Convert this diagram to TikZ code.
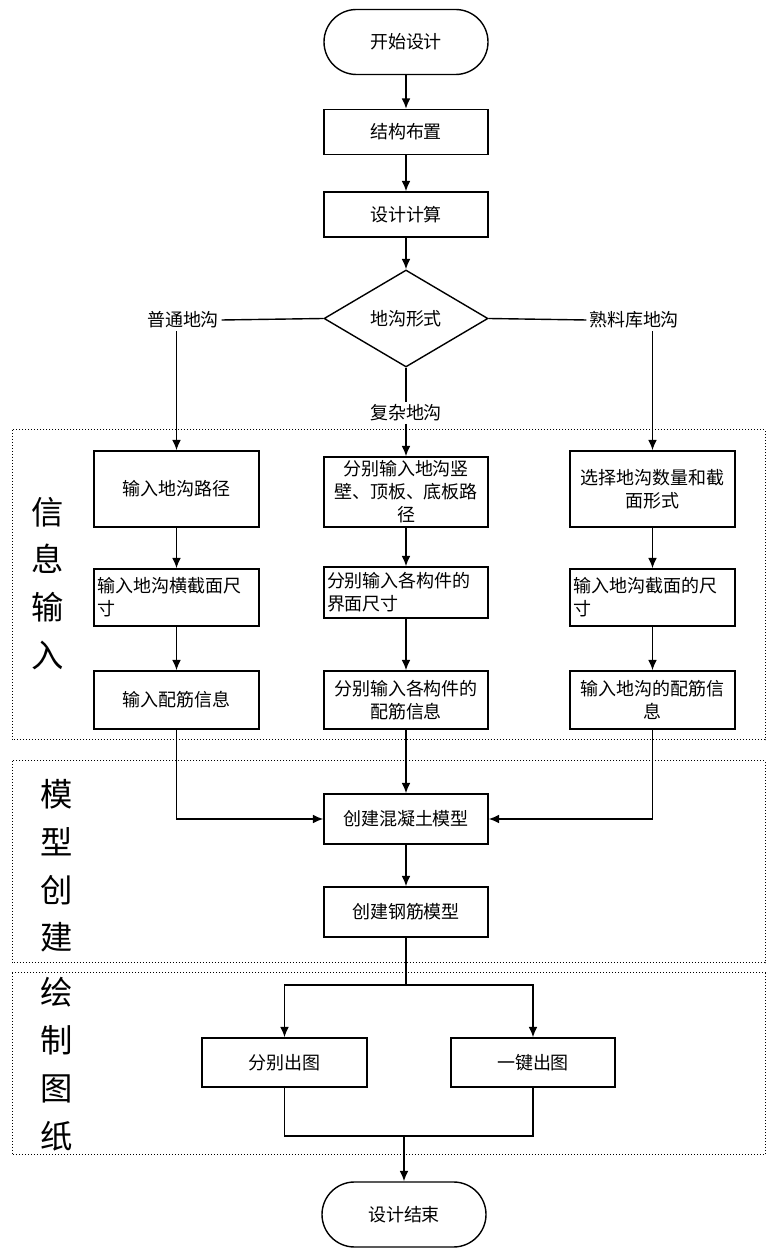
\documentclass[tikz,border=0pt]{standalone}
\usepackage{fontspec}
\setmainfont{Liberation Sans}
\newfontfamily\cjk{Noto Sans CJK SC}
\usetikzlibrary{shapes.geometric,arrows.meta}

\begin{document}
\begin{tikzpicture}[
        line width=0.035000cm,
        every node/.style={font=\cjk\fontsize{12.8}{16.3}\selectfont, inner sep=0.050000cm},
        stepbox/.style={draw, rectangle, minimum width=4.100000cm, align=center},
        termbox/.style={draw, rectangle, rounded corners=0.812500cm, minimum width=4.100000cm, minimum height=1.625000cm},
        decbox/.style={draw, diamond, minimum width=4.100000cm, minimum height=2.425000cm, inner sep=0cm},
        zone/.style={draw, line width=0.025000cm, dash pattern=on 0.035000cm off 0.040000cm},
        zonetitle/.style={font=\cjk\fontsize{23}{34}\selectfont, align=center},
        flow/.style={-{Latex[length=0.260000cm,width=0.220000cm]}}
    ]
        \useasboundingbox (0.000000,0.000000) rectangle (19.375000,31.450000);%
        
        % Drawing dotted zones
        \draw [zone] (0.300000,20.700000) rectangle (19.125000,12.950000);%
        \draw [zone] (0.300000,12.425000) rectangle (19.125000,7.375000);%
        \draw [zone] (0.300000,7.125000) rectangle (19.125000,2.575000);%
        
        % Zone titles
        \node [zonetitle] (zoneA) at (1.200000,16.862500) {信\\息\\输\\入};%
        \node [zonetitle] (zoneB) at (1.425000,9.800000) {模\\型\\创\\建};%
        \node [zonetitle] (zoneC) at (1.425000,4.850000) {绘\\制\\图\\纸};%
        
        % Design steps
        \node [termbox] (start) at (10.150000,30.400000) {开始设计};%
        \node [stepbox, minimum height=1.125000cm] (layout) at (10.150000,28.150000) {结构布置};%
        \node [stepbox, minimum height=1.125000cm] (calc) at (10.150000,26.087500) {设计计算};%
        \node [decbox] (form) at (10.150000,23.487500) {地沟形式};%
        \node (plain) at (4.575000,23.450000) {普通地沟};%
        \node (clinker) at (15.850000,23.450000) {熟料库地沟};%
        \node (complex) at (10.150000,21.125000) {复杂地沟};%
        
        % Information input, column A
        \node [stepbox, minimum width=4.125000cm, minimum height=1.900000cm] (pathA) at (4.412500,19.225000) {输入地沟路径};%
        \node [stepbox, minimum width=4.125000cm, minimum height=1.425000cm, text width=3.950000cm, align=left] (sizeA) at (4.412500,16.512500) {输入地沟横截面尺\\寸};%
        \node [stepbox, minimum width=4.125000cm, minimum height=1.450000cm] (rebarA) at (4.412500,13.950000) {输入配筋信息};%
        
        % Information input, column B
        \node [stepbox, minimum height=1.750000cm] (pathB) at (10.150000,19.150000) {分别输入地沟竖\\壁、顶板、底板路\\径};%
        \node [stepbox, minimum height=1.275000cm, text width=3.950000cm, align=left] (sizeB) at (10.150000,16.637500) {分别输入各构件的\\界面尺寸};%
        \node [stepbox, minimum height=1.450000cm] (rebarB) at (10.150000,13.950000) {分别输入各构件的\\配筋信息};%
        
        % Information input, column C
        \node [stepbox, minimum width=4.125000cm, minimum height=1.900000cm] (pathC) at (16.312500,19.225000) {选择地沟数量和截\\面形式};%
        \node [stepbox, minimum width=4.125000cm, minimum height=1.425000cm, text width=3.950000cm, align=left] (sizeC) at (16.312500,16.512500) {输入地沟截面的尺\\寸};%
        \node [stepbox, minimum width=4.125000cm, minimum height=1.450000cm] (rebarC) at (16.312500,13.950000) {输入地沟的配筋信\\息};%
        
        % Model creation
        \node [stepbox, minimum height=1.250000cm] (concrete) at (10.150000,10.975000) {创建混凝土模型};%
        \node [stepbox, minimum height=1.250000cm] (steel) at (10.150000,8.650000) {创建钢筋模型};%
        
        % Drawing output
        \node [stepbox, minimum width=4.125000cm, minimum height=1.225000cm] (sheetA) at (7.112500,4.887500) {分别出图};%
        \node [stepbox, minimum height=1.225000cm] (sheetB) at (13.325000,4.887500) {一键出图};%
        \node [termbox] (finish) at (10.100000,1.087500) {设计结束};%
        
        % Drawing connectors
        \draw [flow] (start) -- (layout);%
        \draw [flow] (layout) -- (calc);%
        \draw [flow] (calc) -- (form);%
        \draw (form.west) -- (plain.east);%
        \draw (form.east) -- (clinker.west);%
        \draw (form.south) -- (complex.north);%
        \draw [flow] (plain.south -| pathA.north) -- (pathA.north);%
        \draw [flow] (complex.south) -- (pathB.north);%
        \draw [flow] (clinker.south -| pathC.north) -- (pathC.north);%
        
        \draw [flow] (pathA) -- (sizeA);%
        \draw [flow] (sizeA) -- (rebarA);%
        \draw [flow] (pathB) -- (sizeB);%
        \draw [flow] (sizeB) -- (rebarB);%
        \draw [flow] (pathC) -- (sizeC);%
        \draw [flow] (sizeC) -- (rebarC);%
        
        \draw [flow] (rebarA.south) |- (concrete.west);%
        \draw [flow] (rebarB) -- (concrete);%
        \draw [flow] (rebarC.south) |- (concrete.east);%
        \draw [flow] (concrete) -- (steel);%
        
        \coordinate (fork) at (10.150000,6.825000);%
        \draw (steel.south) -- (fork);%
        \draw [flow] (fork) -| (sheetA.north);%
        \draw [flow] (fork) -| (sheetB.north);%
        \coordinate (merge) at (10.100000,3.050000);%
        \draw (sheetA.south) |- (merge);%
        \draw (sheetB.south) |- (merge);%
        \draw [flow] (merge) -- (finish.north);%
    \end{tikzpicture}
\end{document}
